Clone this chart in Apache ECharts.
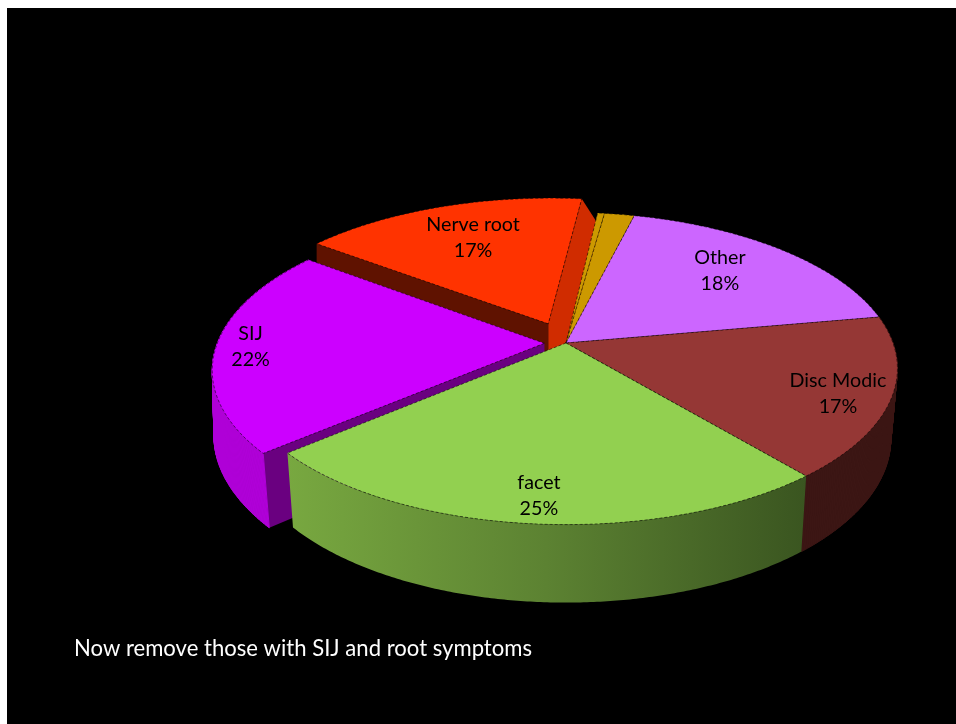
<!DOCTYPE html>
<html>
<head>
<meta charset="utf-8">
<style>html,body{margin:0;padding:0;background:#fff}#c{width:956px;height:724px}</style>
<script src="https://cdn.jsdelivr.net/npm/echarts@6/dist/echarts.min.js"></script>
</head>
<body>
<div id="c"></div>
<script>
// Data, in pie order, clockwise from the start angle
const categories = ['Other', 'Disc Modic', 'facet', 'SIJ', 'Nerve root', '', ''];
const values = [18.3, 16.7, 24.9, 21.5, 16.5, 0.4, 1.7];
const explode = [0, 0, 0, 0.066, 0.14, 0, 0];
const labelRadius = [0.724, 0.85, 0.868, 0.895, 0.708, 0, 0];
const labelAngle = [44.8, 111.9, 184.7, 268.5, 338, 0, 0];
const drawOrder = [4, 5, 6, 0, 1, 3, 2];
const topColors = ['#cc66ff', '#953735', '#92d050', '#cc00ff', '#ff3300', '#cc9900', '#cc9900'];
const wallColors = [null, '#3c1614', 'gradient', '#b000d8', null, null, null];
const cutStartColors = [null, null, null, '#6a0080', '#5f1200', null, null];
const cutEndColors = [null, null, null, null, '#d02c00', null, null];
const cutEndLean = [0, 0, 0, 0, 40, 0, 0];
const facetWallStops = ['#78a840', '#5c8232', '#3a5520'];
const caption = 'Now remove those with SIJ and root symptoms';

// Projection of the tilted disc
const START_DEG = 14, CX = 566, CY = 343, RX = 327, RY = 152, PERSP = 0.163;
const total = values.reduce((a, b) => a + b, 0);
const starts = [];
values.reduce((acc, v, i) => { starts[i] = acc; return acc + v / total * 360; }, START_DEG);

function project(u, v) {
  const s = 1 / (1 - PERSP * v);
  return [CX + RX * u * s, CY + RY * v * s];
}
function lower(p) {
  const dx = p[0] - CX;
  const f = dx < 0 ? Math.min(1, Math.max(0, (p[1] - CY) / 110)) : 1;
  return [p[0] - dx * 0.02 * f, p[1] + 51.75 + 0.05 * p[1]];
}
function rim(deg, off, r) {
  const a = deg * Math.PI / 180;
  return project(off[0] + r * Math.sin(a), off[1] - r * Math.cos(a));
}

function renderItem(params, api) {
  const i = params.dataIndex;
  const a0 = starts[i], span = api.value(0) / total * 360, mid = a0 + span / 2;
  const m = mid * Math.PI / 180;
  const off = [explode[i] * Math.sin(m), -explode[i] * Math.cos(m)];
  const apex = project(off[0], off[1]);
  const arc = [];
  const n = Math.max(2, Math.ceil(span * 2));
  for (let k = 0; k <= n; k++) arc.push(rim(a0 + span * k / n, off, 1));
  const first = arc[0], last = arc[arc.length - 1];
  const rank = drawOrder.indexOf(i) * 10 + 1;
  const poly = (pts, fill, z2, stroke) => ({
    type: 'polygon', z2, silent: true,
    shape: { points: pts },
    style: stroke
      ? { fill, stroke: 'rgba(0,0,0,0.55)', lineWidth: 1, lineDash: [3, 2] }
      : { fill, stroke: 'none' }
  });
  const children = [];
  if (cutStartColors[i]) {
    children.push(poly([apex, first, lower(first), lower(apex)], cutStartColors[i], rank));
  }
  if (cutEndColors[i]) {
    const low = lower(last);
    children.push(poly([apex, last, [low[0] + cutEndLean[i], low[1]], lower(apex)], cutEndColors[i], rank));
  }
  if (wallColors[i] === 'gradient') {
    const grad = new echarts.graphic.LinearGradient(0, 0, 1, 0, [
      { offset: 0, color: facetWallStops[0] },
      { offset: 0.5, color: facetWallStops[1] },
      { offset: 1, color: facetWallStops[2] }
    ]);
    children.push(poly(arc.concat(arc.map(lower).reverse()), grad, rank + 1));
  } else if (wallColors[i]) {
    for (let k = 0; k < n; k++) {
      const a = arc[k], b = arc[k + 1];
      children.push({
        type: 'polygon', z2: rank + 1, silent: true,
        shape: { points: [a, b, lower(b), lower(a)] },
        style: { fill: wallColors[i], stroke: wallColors[i], lineWidth: 1 }
      });
    }
  }
  children.push(poly([apex].concat(arc), topColors[i], rank + 2, true));
  if (categories[i]) {
    const p = rim(labelAngle[i], off, labelRadius[i]);
    children.push({
      type: 'text', z2: 1000, silent: true,
      style: {
        x: p[0], y: p[1],
        text: categories[i] + '\n' + Math.round(api.value(0)) + '%',
        fill: '#000', font: '19.7px Lato', lineHeight: 26,
        align: 'center', verticalAlign: 'middle'
      }
    });
  }
  return { type: 'group', children };
}

const chart = echarts.init(document.getElementById('c'), null, { renderer: 'canvas' });
chart.setOption({
  animation: false,
  backgroundColor: '#fff',
  graphic: [{
    type: 'rect', z: -10, silent: true,
    shape: { x: 7, y: 8, width: 949, height: 716 },
    style: { fill: '#000' }
  }],
  title: {
    text: caption, left: 69, top: 633,
    textStyle: { color: '#fff', fontFamily: 'Lato', fontSize: 22.1, fontWeight: 'normal' }
  },
  series: [{
    type: 'custom',
    coordinateSystem: 'none',
    renderItem,
    data: values.map(v => [v])
  }]
});
</script>
</body>
</html>
